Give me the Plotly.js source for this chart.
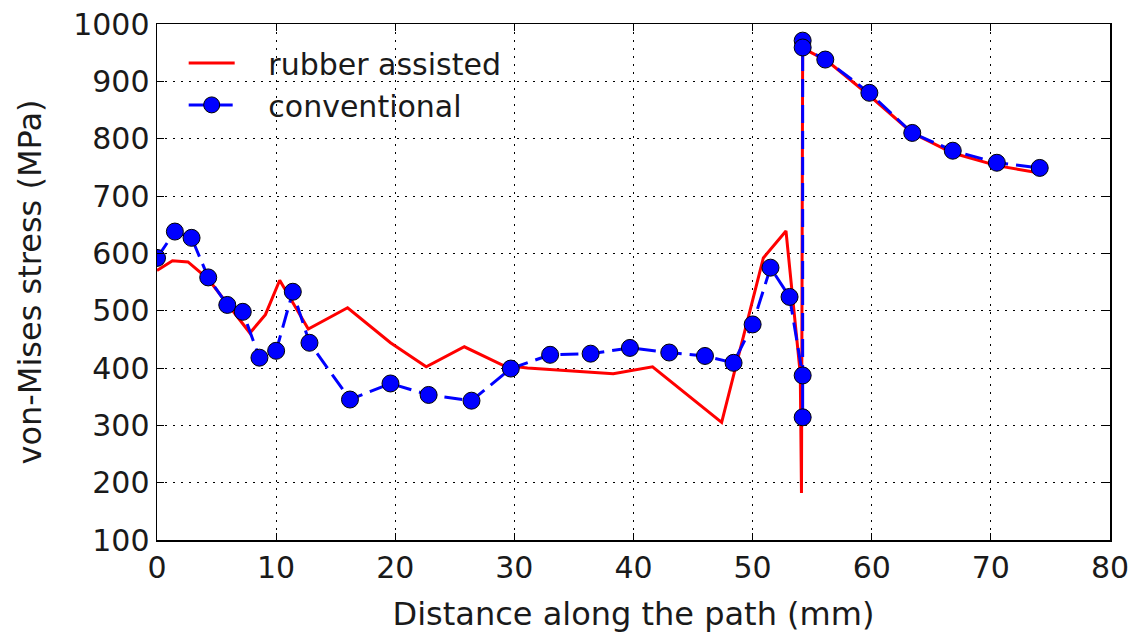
<!DOCTYPE html>
<html>
<head>
<meta charset="utf-8">
<script src="https://cdn.plot.ly/plotly-3.0.1.min.js"></script>
<style>html,body{margin:0;padding:0;background:#fff;}#chart{width:1137px;height:643px;}</style>
</head>
<body>
<div id="chart"></div>
<script>
// rubber assisted (red solid line)
const rubberX = [0, 1.3, 2.6, 4.3, 7.8, 9.1, 10.3, 12.7, 16.0, 19.6, 22.6, 25.8, 29.0, 31.1, 38.3, 41.6, 47.4, 50.9, 52.8, 54.0, 54.1, 54.2, 56.3, 59.7, 63.4, 66.8, 70.5, 74.1];
const rubberY = [570, 587, 585, 555, 461, 493, 553, 468, 505, 444, 402, 437, 405, 400, 390, 402, 305, 592, 639, 390, 182, 958, 935, 877, 810, 775, 753, 740];

// conventional (blue dashed with markers)
const convX = [0, 1.5, 2.9, 4.3, 5.9, 7.2, 8.6, 10.0, 11.4, 12.8, 16.2, 19.6, 22.8, 26.4, 29.7, 33.0, 36.4, 39.7, 43.0, 46.0, 48.4, 50.0, 51.5, 53.1, 54.2, 54.2, 54.2, 54.2, 56.1, 59.8, 63.4, 66.8, 70.5, 74.1];
const convY = [592, 638, 627, 558, 510, 498, 418, 430, 533, 444, 345, 373, 353, 343, 399, 423, 425, 435, 427, 421, 409, 476, 575, 524, 387, 314, 971, 959, 938, 880, 810, 779, 758, 749];

const seriesNames = ['rubber assisted', 'conventional'];
const xTitle = 'Distance along the path (mm)';
const yTitle = 'von-Mises stress (MPa)';

const font = 'DejaVu Sans, sans-serif';
const pad = '\u00A0\u00A0\u00A0';

const traces = [
  {
    x: rubberX, y: rubberY, name: pad + seriesNames[0], type: 'scatter', mode: 'lines',
    legendgroup: 'a',
    line: {color: '#ff0000', width: 3}
  },
  {
    x: convX, y: convY, name: pad + seriesNames[1], type: 'scatter', mode: 'lines+markers',
    legendgroup: 'b',
    line: {color: '#0000ff', width: 3, dash: '18px,8px'},
    marker: {color: '#0000ff', size: 17, line: {color: '#000000', width: 1}}
  }
];

const axisCommon = {
  showline: true, linecolor: '#000', linewidth: 1.5, mirror: 'ticks',
  ticks: 'inside', ticklen: 7, tickwidth: 1, tickcolor: '#000',
  showgrid: true, gridcolor: '#000', gridwidth: 1, griddash: '2px,6px',
  zeroline: false,
  tickfont: {family: font, size: 30, color: '#1a1a1a'}
};

const layout = {
  width: 1137, height: 643,
  margin: {l: 157, r: 27, t: 24, b: 103},
  paper_bgcolor: '#fff', plot_bgcolor: '#fff',
  showlegend: true,
  legend: {
    x: 0.028, y: 0.975, xanchor: 'left', yanchor: 'top',
    bgcolor: 'rgba(255,255,255,0)', borderwidth: 0,
    font: {family: font, size: 30, color: '#1a1a1a'},
    itemwidth: 46, tracegroupgap: 6, traceorder: 'normal'
  },
  xaxis: Object.assign({}, axisCommon, {
    range: [0, 80], dtick: 10, tick0: 0,
    title: {text: xTitle, font: {family: font, size: 32, color: '#1a1a1a'}, standoff: 19}
  }),
  yaxis: Object.assign({}, axisCommon, {
    range: [100, 1000], dtick: 100, tick0: 0,
    title: {text: yTitle, font: {family: font, size: 32, color: '#1a1a1a'}, standoff: 22}
  })
};

Plotly.newPlot('chart', traces, layout, {displayModeBar: false, staticPlot: true});
</script>
</body>
</html>
